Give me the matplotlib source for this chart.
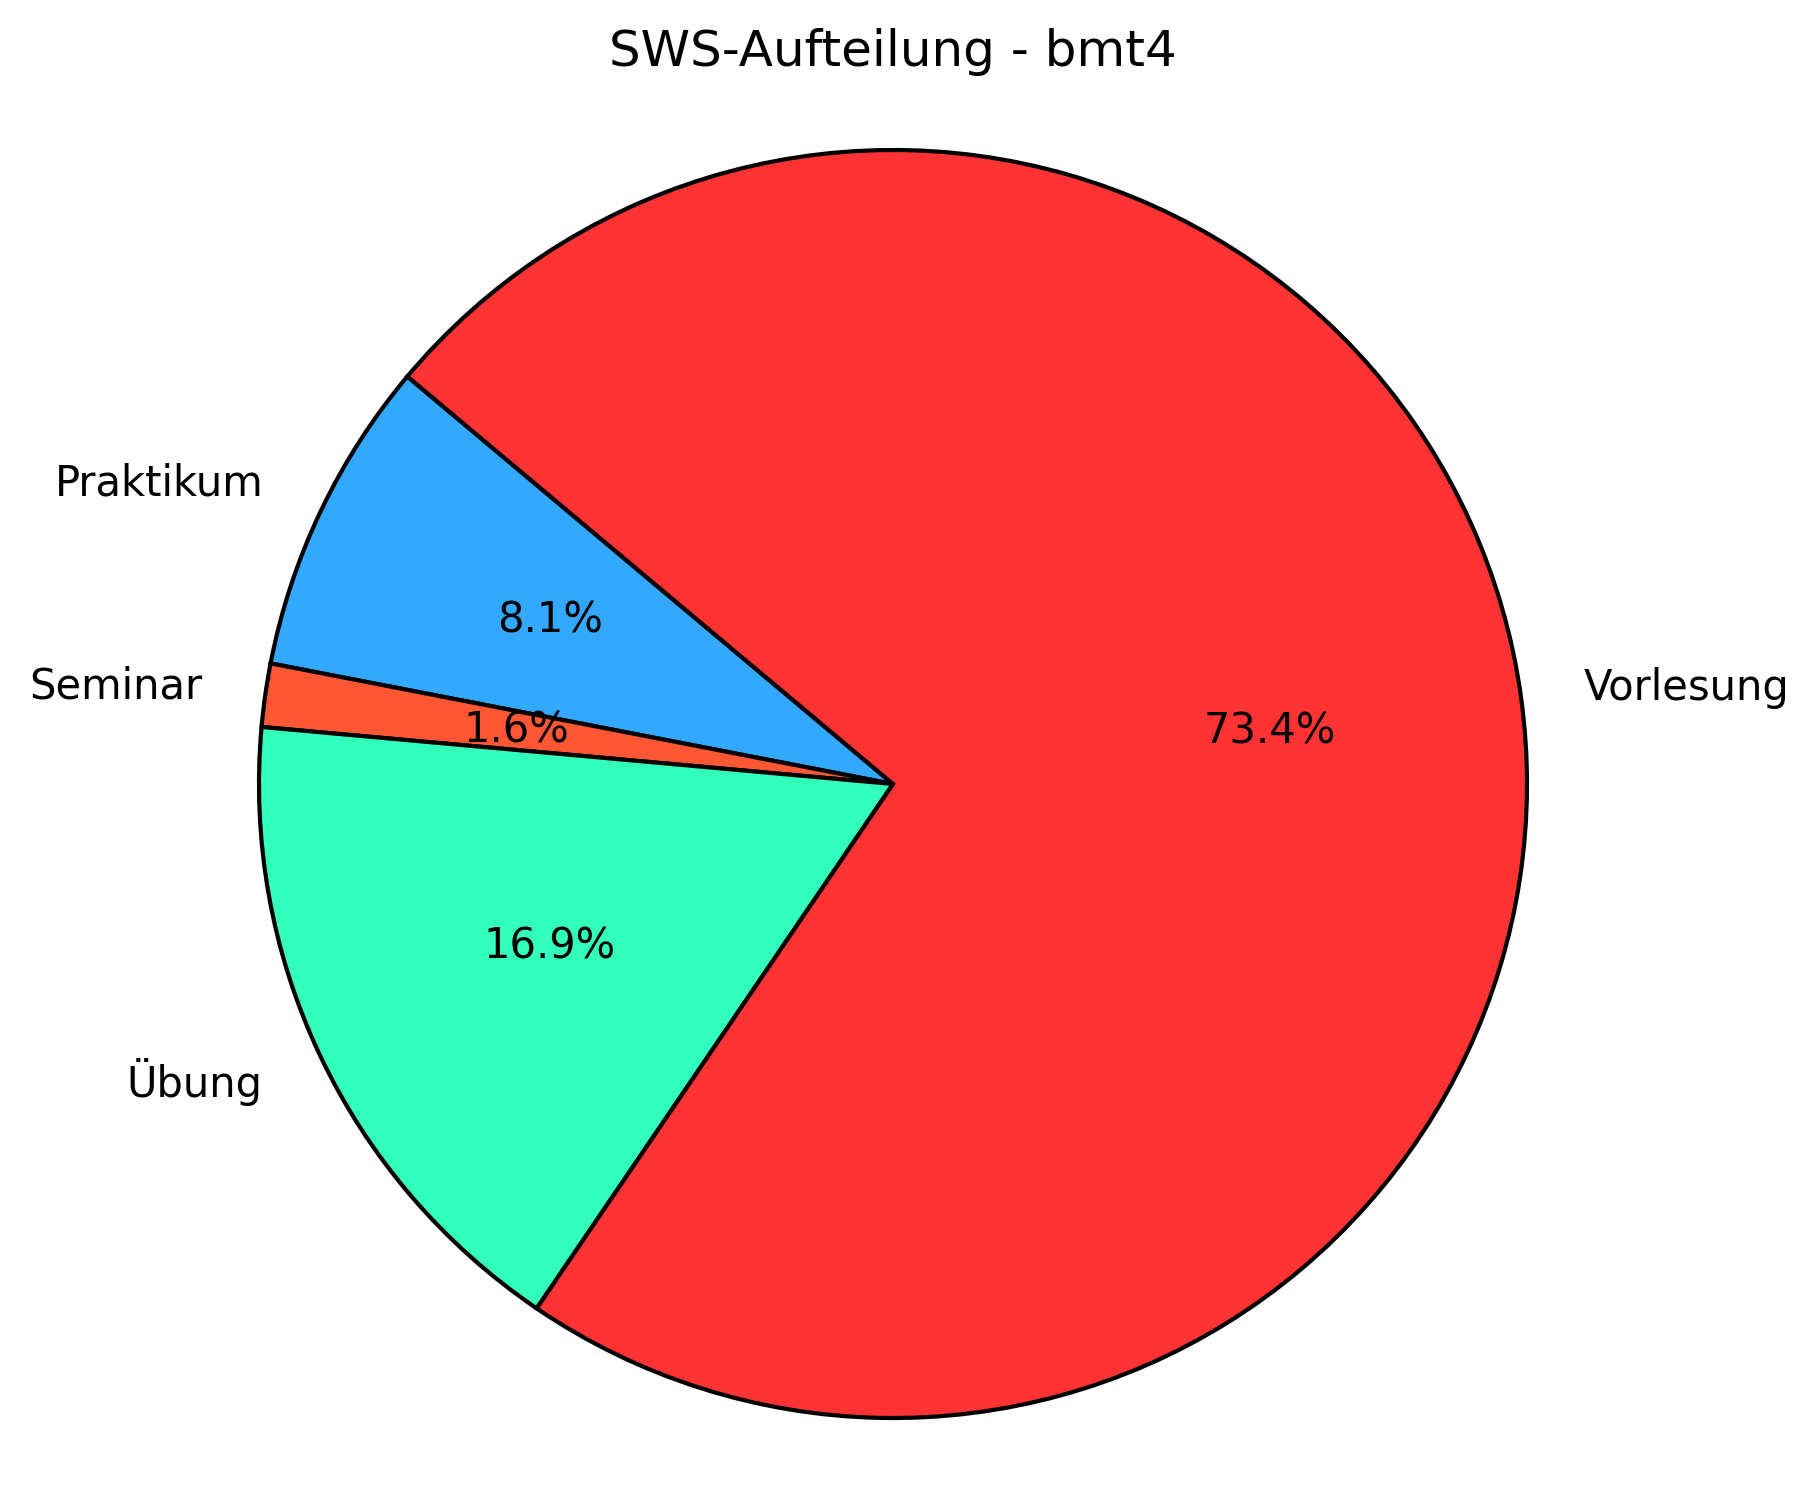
import matplotlib
matplotlib.use("Agg")
import matplotlib.pyplot as plt

labels = ["Praktikum", "Seminar", "Übung", "Vorlesung"]
values = [10, 2, 21, 91]
colors = ["#33A8FF", "#FF5733", "#33FFBD", "#FF3333"]
title = "SWS-Aufteilung - bmt4"

W, H, DPI = 1820, 1509, 200
fig = plt.figure(figsize=(W / DPI, H / DPI), dpi=DPI)
cx, cy, r = 893, 784, 634
lim = 1.1
side = 2 * lim * r
ax = fig.add_axes([(cx - side / 2) / W, (H - cy - side / 2) / H, side / W, side / H])
ax.pie(values, labels=labels, colors=colors, autopct="%1.1f%%", startangle=140,
       wedgeprops=dict(edgecolor="black", linewidth=1.5),
       textprops=dict(fontsize=15))
ax.set_xlim(-lim, lim)
ax.set_ylim(-lim, lim)
ax.set_aspect("equal")
fig.text(cx / W, 1 - 52 / H, title, ha="center", va="center", fontsize=18)
fig.savefig("out.png", dpi=DPI)
